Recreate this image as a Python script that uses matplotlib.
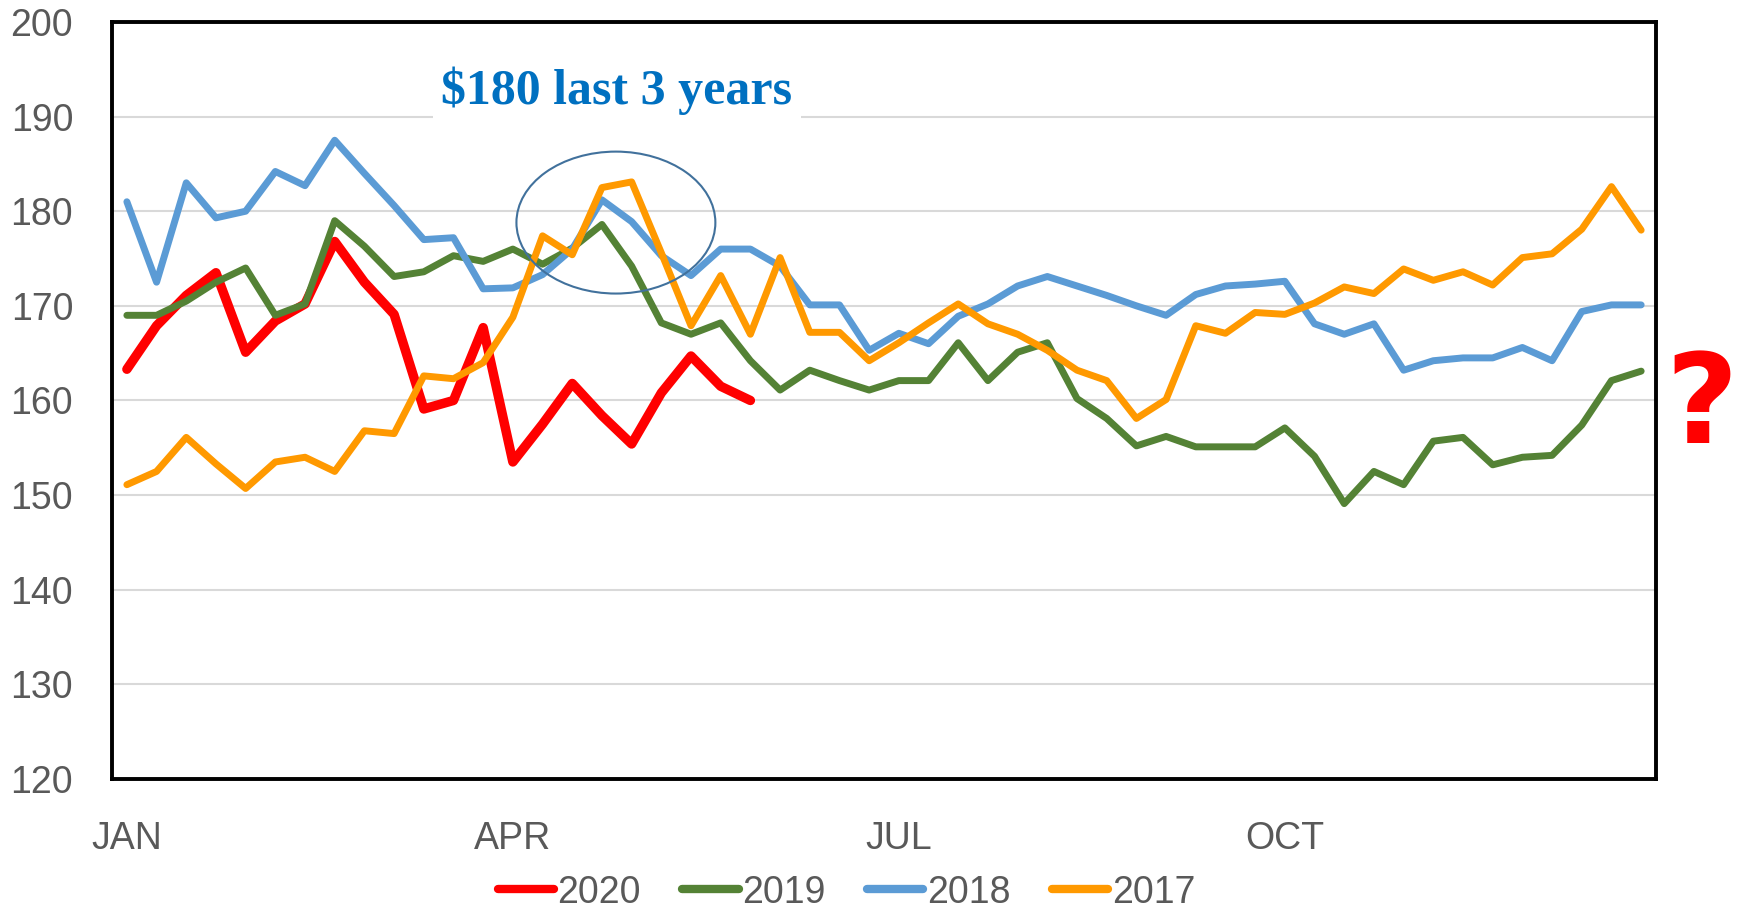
import matplotlib
matplotlib.use("Agg")
import matplotlib.pyplot as plt
from matplotlib.patches import Ellipse

# weekly prices, week index 0..51
weeks = list(range(52))
y2020 = [163.3, 167.9, 171.1, 173.5, 165.1, 168.4, 170.2, 176.8, 172.5, 169.1,
         159.1, 160.0, 167.7, 153.5, 157.5, 161.8, 158.4, 155.4, 160.8, 164.7,
         161.5, 160.0]
y2019 = [169.0, 169.0, 170.5, 172.5, 174.0, 169.0, 170.2, 179.0, 176.3, 173.1,
         173.6, 175.3, 174.7, 176.0, 174.4, 176.1, 178.6, 174.2, 168.2, 167.0,
         168.2, 164.2, 161.1, 163.2, 162.1, 161.1, 162.1, 162.1, 166.1, 162.1,
         165.1, 166.1, 160.2, 158.1, 155.2, 156.2, 155.1, 155.1, 155.1, 157.1,
         154.1, 149.1, 152.5, 151.1, 155.7, 156.1, 153.2, 154.0, 154.2, 157.4,
         162.1, 163.1]
y2018 = [181.0, 172.5, 183.0, 179.3, 180.0, 184.2, 182.7, 187.5, 184.0, 180.6,
         177.0, 177.2, 171.8, 171.9, 173.3, 176.0, 181.2, 178.9, 175.3, 173.2,
         176.0, 176.0, 174.2, 170.1, 170.1, 165.3, 167.1, 166.0, 168.9, 170.2,
         172.1, 173.1, 172.1, 171.1, 170.0, 169.0, 171.2, 172.1, 172.3, 172.6,
         168.1, 167.0, 168.1, 163.2, 164.2, 164.5, 164.5, 165.6, 164.2, 169.4,
         170.1, 170.1]
y2017 = [151.1, 152.5, 156.1, 153.3, 150.7, 153.5, 154.0, 152.5, 156.8, 156.5,
         162.6, 162.3, 164.0, 168.8, 177.4, 175.4, 182.5, 183.1, 175.6, 167.9,
         173.2, 167.0, 175.1, 167.2, 167.2, 164.2, 166.1, 168.2, 170.2, 168.1,
         167.0, 165.3, 163.2, 162.1, 158.1, 160.1, 167.9, 167.1, 169.3, 169.1,
         170.3, 172.0, 171.3, 173.9, 172.7, 173.6, 172.2, 175.1, 175.5, 178.1,
         182.6, 178.0]

month_pos = [0, 13, 26, 39]
month_lbl = ["JAN", "APR", "JUL", "OCT"]
yticks = [120, 130, 140, 150, 160, 170, 180, 190, 200]

plt.rcParams['font.family'] = ['Liberation Sans', 'DejaVu Sans']

fig = plt.figure(figsize=(17.45, 9.08), dpi=100)
ax = fig.add_axes([0.0642, 0.1421, 0.8848, 0.8337])

kw = dict(solid_capstyle='round', solid_joinstyle='round')
ax.plot(weeks[:len(y2020)], y2020, color='#FF0000', lw=6.8, label='2020', **kw)
ax.plot(weeks, y2019, color='#548235', lw=5, label='2019', **kw)
ax.plot(weeks, y2018, color='#5B9BD5', lw=5, label='2018', **kw)
ax.plot(weeks, y2017, color='#FF9900', lw=5, label='2017', **kw)

ax.set_xlim(-0.5, 51.5)
ax.set_ylim(120, 200)
ax.set_yticks(yticks)
ax.set_xticks(month_pos)
ax.set_xticklabels(month_lbl)
ax.tick_params(axis='both', length=0, labelsize=27, labelcolor='#595959')
ax.tick_params(axis='y', pad=28)
ax.tick_params(axis='x', pad=30)
ax.grid(axis='y', color='#D9D9D9', lw=1.5)
ax.set_axisbelow(True)
for s in ax.spines.values():
    s.set_color('black')
    s.set_linewidth(2.8)

# highlight
ax.add_patch(Ellipse((16.47, 178.8), 6.7, 15.0, fill=False,
                     edgecolor='#41719C', lw=1.5, zorder=5))
ax.text(16.5, 192.7, "$180 last 3 years", ha='center', va='center',
        fontsize=36, fontweight='bold', color='#0070C0',
        family=['Liberation Serif', 'DejaVu Serif'],
        bbox=dict(facecolor='white', edgecolor='none', pad=6), zorder=6)

fig.text(0.975, 0.55, "?", ha='center', va='center', fontsize=90,
         fontweight='heavy', color='#FF0000', family='DejaVu Sans')

leg = fig.legend(loc='center', bbox_to_anchor=(0.485, 0.017), ncol=4,
                 frameon=False, fontsize=27, handlelength=1.5,
                 handletextpad=0.1, columnspacing=1.1)
for t in leg.get_texts():
    t.set_color('#595959')
for h in leg.get_lines():
    h.set_linewidth(6)

fig.savefig('out.png', dpi=100)
